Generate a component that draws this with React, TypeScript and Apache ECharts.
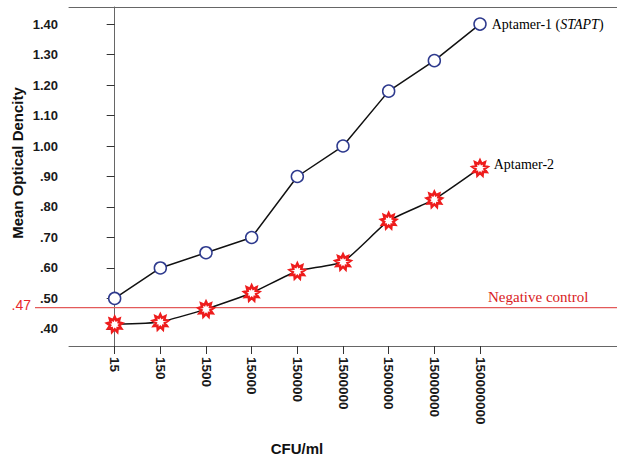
import React, { useEffect, useRef } from "react";
import * as echarts from "echarts";

const categories = ["15", "150", "1500", "15000", "150000", "1500000", "1500000", "15000000", "150000000"];
const aptamer1 = [0.5, 0.6, 0.65, 0.7, 0.9, 1.0, 1.18, 1.28, 1.4];
const aptamer2 = [0.415, 0.423, 0.465, 0.518, 0.59, 0.62, 0.755, 0.825, 0.928];
const yTicks = [0.4, 0.5, 0.6, 0.7, 0.8, 0.9, 1.0, 1.1, 1.2, 1.3, 1.4];
const negativeControl = 0.47;

function starPath(points: number, outer: number, inner: number): string {
  let d = "path://";
  for (let i = 0; i < points * 2; i++) {
    const r = i % 2 === 0 ? outer : inner;
    const a = (Math.PI * i) / points - Math.PI / 2;
    const x = 50 + r * Math.cos(a);
    const y = 50 + r * Math.sin(a);
    d += (i === 0 ? "M" : "L") + x.toFixed(2) + " " + y.toFixed(2) + " ";
  }
  return d + "Z";
}

export default function App() {
  const ref = useRef<HTMLDivElement>(null);
  useEffect(() => {
    document.body.style.margin = "0";
    const chart = echarts.init(ref.current!, undefined, { renderer: "svg" });
    const idx = categories.map((_, i) => i);
    const axisColor = "#666";
    const sans = "'Liberation Sans', Arial, sans-serif";
    const serif = "'Liberation Serif', 'Times New Roman', serif";
    chart.setOption({
      animation: false,
      backgroundColor: "#fff",
      grid: { left: 69, right: 0, top: 7, bottom: 113 },
      xAxis: [
        {
          type: "value",
          min: -1,
          max: 11,
          splitLine: { show: false },
          axisLine: { lineStyle: { color: axisColor, width: 1 } },
          axisTick: { customValues: idx, length: 8, lineStyle: { color: "#333" } },
          axisLabel: {
            customValues: idx,
            rotate: -90,
            margin: 11,
            fontFamily: sans,
            fontWeight: "bold",
            fontSize: 13.5,
            color: "#1a1a1a",
            formatter: (v: number) => categories[Math.round(v)] ?? "",
          },
        },
        {
          type: "value",
          position: "top",
          min: -1,
          max: 11,
          splitLine: { show: false },
          axisLine: { show: true, lineStyle: { color: axisColor, width: 1 } },
          axisTick: { show: false },
          axisLabel: { show: false },
        },
      ],
      yAxis: {
        type: "value",
        min: 0.344,
        max: 1.456,
        splitLine: { show: false },
        axisLine: { show: true, lineStyle: { color: axisColor, width: 1 } },
        axisTick: { show: true, customValues: yTicks, length: 8, lineStyle: { color: "#333" } },
        axisLabel: {
          customValues: yTicks,
          margin: 11,
          fontFamily: sans,
          fontWeight: "bold",
          fontSize: 13,
          color: "#1a1a1a",
          formatter: (v: number) => {
            const s = v.toFixed(2);
            return v < 1 ? s.slice(1) : s;
          },
        },
      },
      series: [
        {
          type: "line",
          data: aptamer1.map((v, i) => [i, v]),
          symbol: "circle",
          symbolSize: 12,
          showAllSymbol: true,
          lineStyle: { color: "#111", width: 1.5 },
          itemStyle: { color: "#fff", borderColor: "#2e3a8e", borderWidth: 1.5 },
          z: 3,
          label: {
            show: true,
            position: "right",
            distance: 5,
            formatter: (p: any) => (p.dataIndex === aptamer1.length - 1 ? "Aptamer-1 ({i|STAPT})" : ""),
            fontFamily: serif,
            fontSize: 14,
            color: "#000",
            rich: { i: { fontFamily: serif, fontStyle: "italic", fontSize: 14, color: "#000" } },
          },
        },
        {
          type: "line",
          data: aptamer2.map((v, i) => [i, v]),
          symbol: starPath(9, 50, 30),
          symbolSize: 15,
          showAllSymbol: true,
          smooth: 0.15,
          lineStyle: { color: "#111", width: 1.5 },
          itemStyle: { color: "#fff", borderColor: "#ee1c1c", borderWidth: 2.5 },
          z: 3,
          label: {
            show: true,
            position: "right",
            distance: 5,
            offset: [0, -3],
            formatter: (p: any) => (p.dataIndex === aptamer2.length - 1 ? "Aptamer-2" : ""),
            fontFamily: serif,
            fontSize: 14,
            color: "#000",
          },
        },
      ],
    });
    const y = chart.convertToPixel({ yAxisIndex: 0 }, negativeControl) as number;
    chart.setOption({
      graphic: [
        {
          type: "line",
          shape: { x1: 35, y1: y, x2: 617, y2: y },
          style: { stroke: "#e35a5a", lineWidth: 1.2 },
          z: 1,
        },
        {
          type: "text",
          x: 31,
          y: y - 3,
          style: {
            text: ".47",
            fill: "#e8282b",
            font: `14px ${sans}`,
            textAlign: "right",
            textVerticalAlign: "middle",
          },
        },
        {
          type: "text",
          x: 488,
          y: y - 11,
          style: {
            text: "Negative control",
            fill: "#d91a22",
            font: `15px ${serif}`,
            textAlign: "left",
            textVerticalAlign: "middle",
          },
        },
        {
          type: "text",
          x: 17,
          y: 163,
          rotation: Math.PI / 2,
          style: {
            text: "Mean Optical Dencity",
            fill: "#111",
            font: `bold 15px ${sans}`,
            textAlign: "center",
            textVerticalAlign: "middle",
          },
        },
        {
          type: "text",
          x: 297,
          y: 448,
          style: {
            text: "CFU/ml",
            fill: "#111",
            font: `bold 15px ${sans}`,
            textAlign: "center",
            textVerticalAlign: "middle",
          },
        },
      ],
    });
    return () => chart.dispose();
  }, []);
  return <div ref={ref} style={{ position: "absolute", left: 0, top: 0, width: 617, height: 459 }} />;
}
